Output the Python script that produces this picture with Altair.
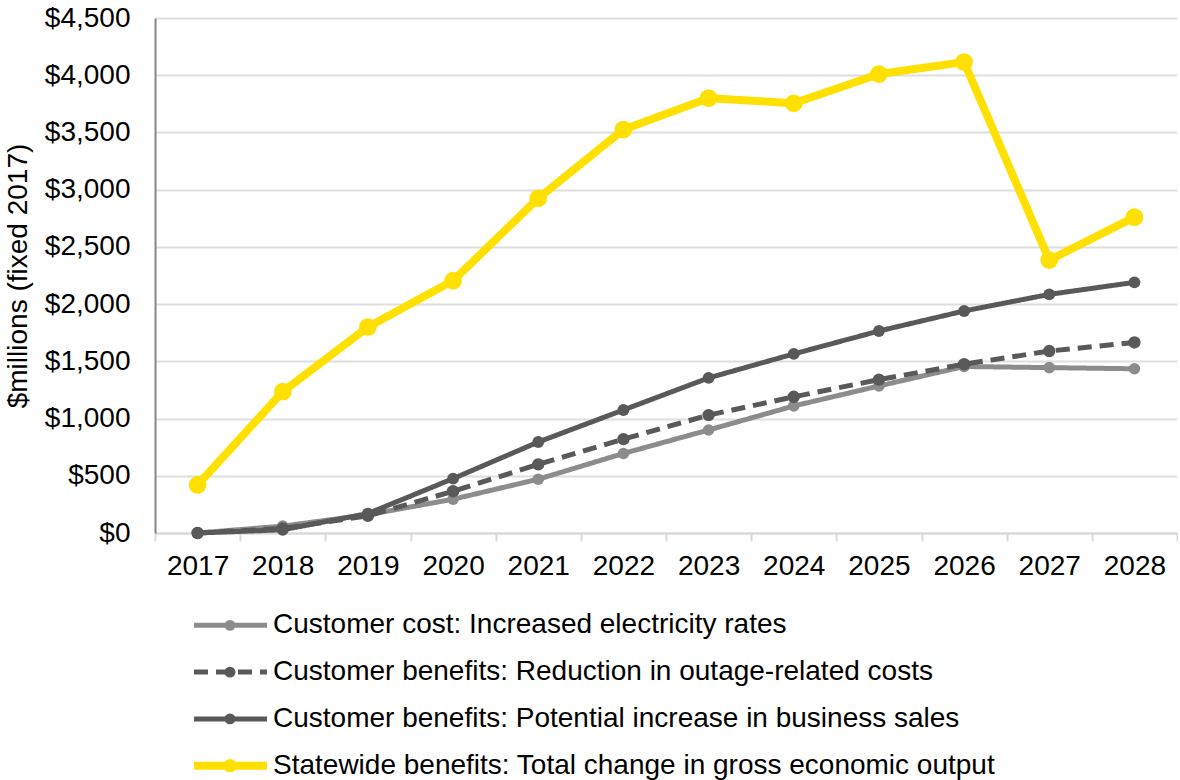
import altair as alt
import pandas as pd

years = [str(y) for y in range(2017, 2029)]
series_names = [
    "Customer cost: Increased electricity rates",
    "Customer benefits: Reduction in outage-related costs",
    "Customer benefits: Potential increase in business sales",
    "Statewide benefits: Total change in gross economic output",
]
cost = [0, 60, 160, 295, 470, 695, 900, 1110, 1285, 1455, 1445, 1435]
reduction = [0, 40, 150, 365, 600, 820, 1030, 1190, 1340, 1475, 1590, 1665]
business = [0, 28, 170, 475, 795, 1075, 1355, 1565, 1765, 1940, 2085, 2190]
statewide = [420, 1235, 1800, 2205, 2925, 3525, 3800, 3755, 4010, 4115, 2385, 2760]

colors = ["#8C8C8C", "#595959", "#595959", "#FFE000"]
dashes = [[1, 0], [14, 8], [1, 0], [1, 0]]
widths = [5, 5, 5, 8]
pt_sizes = [133, 154, 140, 314]
leg_sizes = [120, 120, 120, 180]

FONT = "Liberation Sans"
FS = 28

rows = []
for name, vals in zip(series_names, [cost, reduction, business, statewide]):
    for yr, v in zip(years, vals):
        rows.append({"Year": yr, "Series": name, "Value": v})
df = pd.DataFrame(rows)

x_enc = alt.X(
    "Year:O",
    bandPosition=0.5,
    scale=alt.Scale(type="band", paddingInner=0, paddingOuter=0, domain=years),
    axis=alt.Axis(
        title=None, labelAngle=0, tickBand="extent", grid=False,
        domainColor="#D9D9D9", domainWidth=2, tickColor="#D9D9D9",
        tickWidth=2, tickSize=8, labelPadding=11, labelFontSize=FS,
        labelColor="#000000", labelFont=FONT,
    ),
)
y_enc = alt.Y(
    "Value:Q",
    scale=alt.Scale(domain=[0, 4500], nice=False),
    axis=alt.Axis(
        title="$millions (fixed 2017)", values=list(range(0, 4501, 500)),
        format="$,.0f", ticks=False, labelPadding=25, grid=True,
        gridColor="#DEDEDE", gridWidth=2, domainColor="#868686",
        domainWidth=2, labelFontSize=FS, labelFont=FONT, labelColor="#000000",
        titleFontSize=FS, titleFont=FONT, titleFontWeight="normal",
        titleColor="#000000", titlePadding=12,
    ),
)

no_border = alt.ViewBackground(stroke="transparent", strokeWidth=0)

base = alt.Chart(df)
layers = []
for i, name in enumerate(series_names):
    sub = base.transform_filter(alt.datum.Series == name)
    layers.append(
        sub.mark_line(color=colors[i], strokeWidth=widths[i],
                      strokeDash=dashes[i], strokeJoin="round")
        .encode(x=x_enc, y=y_enc)
    )
    layers.append(
        sub.mark_circle(color=colors[i], size=pt_sizes[i], opacity=1)
        .encode(x=x_enc, y=y_enc)
    )
main = alt.layer(*layers).properties(width=1022, height=515, view=no_border)

leg_df = pd.DataFrame({"Series": series_names})
ly = alt.Y("Series:N",
           scale=alt.Scale(type="point", padding=0.2, domain=series_names),
           axis=None)
leg_layers = []
for i, name in enumerate(series_names):
    sub = alt.Chart(leg_df).transform_filter(alt.datum.Series == name)
    leg_layers.append(
        sub.mark_rule(color=colors[i], strokeWidth=widths[i],
                      strokeDash=dashes[i])
        .encode(x=alt.value(39), x2=alt.value(112), y=ly)
    )
    leg_layers.append(
        sub.mark_circle(color=colors[i], size=leg_sizes[i], opacity=1)
        .encode(x=alt.value(75), y=ly)
    )
leg_layers.append(
    alt.Chart(leg_df).mark_text(align="left", baseline="middle", fontSize=FS,
                                font=FONT, color="#000000")
    .encode(x=alt.value(118), y=ly, text="Series:N")
)
legend = alt.layer(*leg_layers).properties(width=900, height=159, view=no_border)

chart = (
    alt.vconcat(main, legend, spacing=31)
    .properties(padding={"left": 4, "top": 4, "right": 0, "bottom": 0})
    .configure_view(stroke="transparent", strokeWidth=0)
    .configure(font=FONT)
)
chart.save("out.html", embed_options={"renderer": "svg", "actions": False})
